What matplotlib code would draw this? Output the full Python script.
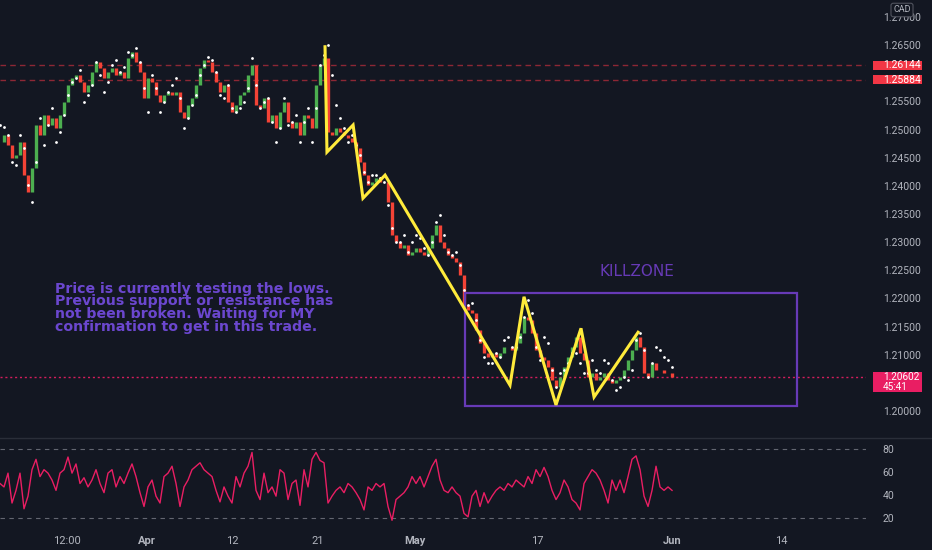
import numpy as np
import matplotlib
matplotlib.use("Agg")
import matplotlib.pyplot as plt
from matplotlib.patches import Rectangle
from matplotlib.lines import Line2D
import matplotlib.transforms as mtransforms

# ------------------------------------------------------------------ data
close_prices = [
    1.2478, 1.2490, 1.2472, 1.2449, 1.2455, 1.2478, 1.2419, 1.2389, 1.2432, 1.2508,
    1.2490, 1.2526, 1.2508, 1.2520, 1.2503, 1.2526, 1.2549, 1.2579, 1.2591, 1.2597,
    1.2584, 1.2567, 1.2579, 1.2602, 1.2620, 1.2609, 1.2591, 1.2602, 1.2609, 1.2597,
    1.2602, 1.2591, 1.2627, 1.2638, 1.2620, 1.2602, 1.2556, 1.2591, 1.2584, 1.2561,
    1.2549, 1.2561, 1.2567,
    1.2561, 1.2567, 1.2531, 1.2520, 1.2543, 1.2556, 1.2579, 1.2609, 1.2623, 1.2620,
    1.2602, 1.2584, 1.2567, 1.2579, 1.2549, 1.2531, 1.2543, 1.2561, 1.2567, 1.2597,
    1.2615, 1.2543, 1.2538, 1.2556, 1.2513, 1.2526, 1.2503, 1.2531, 1.2549, 1.2513,
    1.2503, 1.2513, 1.2490, 1.2526, 1.2520, 1.2503, 1.2579, 1.2615, 1.2627,
    1.2496, 1.2490, 1.2503, 1.2496, 1.2490, 1.2485, 1.2478, 1.2467, 1.2442, 1.2419,
    1.2401, 1.2407, 1.2414, 1.2407, 1.2407, 1.2371, 1.2313, 1.2300, 1.2290, 1.2295,
    1.2277, 1.2282, 1.2290, 1.2282, 1.2277, 1.2290, 1.2313, 1.2330, 1.2300, 1.2290,
    1.2277, 1.2272, 1.2265, 1.2242,
    1.2188, 1.2179, 1.2174, 1.2144, 1.2121, 1.2103, 1.2096, 1.2103, 1.2096, 1.2103,
    1.2114, 1.2114, 1.2108, 1.2121, 1.2139, 1.2167, 1.2162, 1.2139, 1.2108, 1.2096,
    1.2091, 1.2078, 1.2055, 1.2043, 1.2060, 1.2078, 1.2096, 1.2114, 1.2132, 1.2103,
    1.2091, 1.2060, 1.2068, 1.2055, 1.2060, 1.2068, 1.2055, 1.2050, 1.2055, 1.2060,
    1.2073, 1.2091, 1.2108, 1.2132, 1.2114, 1.2068, 1.2060, 1.2085, 1.2073, 1.2073,
    1.2068, 1.2068, 1.2060,
]

trail_dots = [
    1.2508, 1.2504, 1.2490, 1.2442, 1.2437, 1.2490, 1.2467, 1.2401, 1.2371, 1.2442,
    1.2520, 1.2472, 1.2508, 1.2538, 1.2478, 1.2496, 1.2526, 1.2561, 1.2584, 1.2591,
    1.2606, 1.2549, 1.2561, 1.2579, 1.2620, 1.2597, 1.2567, 1.2584, 1.2615, 1.2623,
    1.2602, 1.2611, 1.2638, 1.2632, 1.2645, 1.2620, 1.2574, 1.2531, 1.2597, 1.2574,
    1.2531, 1.2549, 1.2567,
    1.2579, 1.2591, 1.2556, 1.2503, 1.2520, 1.2543, 1.2561, 1.2597, 1.2615, 1.2629,
    1.2623, 1.2602, 1.2561, 1.2556, 1.2579, 1.2538, 1.2531, 1.2538, 1.2549, 1.2574,
    1.2627, 1.2579, 1.2538, 1.2549, 1.2556, 1.2513, 1.2478, 1.2503, 1.2556, 1.2508,
    1.2513, 1.2526, 1.2478, 1.2513, 1.2538, 1.2478, 1.2538, 1.2615, 1.2632,
    1.2650, 1.2597, 1.2543, 1.2520, 1.2503, 1.2478, 1.2490, 1.2472, 1.2455, 1.2424,
    1.2407, 1.2419, 1.2419, 1.2414, 1.2407, 1.2366, 1.2325, 1.2300, 1.2300, 1.2313,
    1.2282, 1.2300, 1.2313, 1.2307, 1.2290, 1.2277, 1.2300, 1.2336, 1.2348, 1.2313,
    1.2282, 1.2277, 1.2282, 1.2259,
    1.2215, 1.2188, 1.2192, 1.2162, 1.2126, 1.2096, 1.2085, 1.2085, 1.2103, 1.2096,
    1.2126, 1.2132, 1.2114, 1.2114, 1.2132, 1.2167, 1.2197, 1.2174, 1.2114, 1.2091,
    1.2132, 1.2121, 1.2073, 1.2043, 1.2068, 1.2073, 1.2085, 1.2103, 1.2103, 1.2085,
    1.2068, 1.2068, 1.2091, 1.2073, 1.2068, 1.2091, 1.2085, 1.2055, 1.2037, 1.2043,
    1.2060, 1.2055, 1.2073, 1.2126, 1.2139, 1.2108, 1.2060, 1.2085, 1.2114, 1.2108,
    1.2096, 1.2091, 1.2078,
]

rsi_values = [
    50, 47, 59, 33, 44, 59, 28, 39, 62, 71,
    56, 62, 59, 53, 44, 59, 62, 73, 59, 67,
    50, 55, 47, 53, 62, 50, 42, 59, 62, 47,
    56, 50, 59, 67, 56, 42, 30, 47, 53, 39,
    33, 56, 59, 65, 50, 30, 47, 53, 62, 65,
    68, 62, 59, 56, 44, 34, 47, 39, 33, 56,
    47, 59, 65, 77, 44, 36, 59, 42, 47, 39,
    62, 59, 36, 50, 53, 31, 62, 47, 71, 77,
    70, 68, 33, 39, 44, 47, 42, 50, 47, 42,
    36, 27, 47, 44, 50, 47, 50, 30, 18, 36,
    39, 42, 47, 56, 50, 56, 47, 56, 65, 71,
    53, 44, 42, 47, 42, 39,
    24, 21, 39, 44, 30, 42, 33, 39, 44, 47,
    44, 50, 47, 53, 50, 47, 56, 50, 62, 56,
    64, 56, 44, 36, 42, 53, 47, 36, 33, 27,
    50, 56, 62, 59, 53, 44, 33, 53, 44, 53,
    42, 56, 71, 74, 62, 39, 30, 44, 65, 47,
    44, 47, 44,
]

resistance_levels = [1.26144, 1.25884]
last_price = 1.20602
countdown = "45:41"

zigzag_days = [14.59, 14.75, 16.89, 17.70, 19.51, 29.75, 30.90, 33.52, 35.57, 36.64, 40.25]
zigzag_prices = [1.2647, 1.2460, 1.2508, 1.2378, 1.2419, 1.2046, 1.2203, 1.2011,
                 1.2147, 1.2025, 1.2140]

killzone_days = [26.07, 53.28]
killzone_prices = [1.2009, 1.2210]

# 1.20500 and 1.26000 sit under the price labels and are hidden there
price_ticks = [1.200, 1.210, 1.215, 1.220, 1.225, 1.230, 1.235,
               1.240, 1.245, 1.250, 1.255, 1.265, 1.270]
rsi_ticks = [20, 40, 60, 80]
time_tick_days = [-6.56, 0, 7, 14, 22, 32, 43, 52]
time_tick_labels = ["12:00", "Apr", "12", "21", "May", "17", "Jun", "14"]
month_labels = {"Apr", "May", "Jun"}

note_text = ("Price is currently testing the lows.\n"
             "Previous support or resistance has\n"
             "not been broken. Waiting for MY\n"
             "confirmation to get in this trade.")

# ------------------------------------------------------------------ style
BG = "#131722"
AXIS_TXT = "#b2b5be"
UP = "#4caf50"
DOWN = "#f44336"
PURPLE = "#673ab7"
NOTE = "#6b47cf"
PINK = "#e91e63"
RED = "#f23645"

W, H = 932, 550
fig = plt.figure(figsize=(W / 100, H / 100), dpi=100)
fig.patch.set_facecolor(BG)

plot_w = 866 / W
ax = fig.add_axes([0, 113 / H, plot_w, 437 / H])
ax2 = fig.add_axes([0, 22 / H, plot_w, 88 / H])
for a in (ax, ax2):
    a.set_facecolor(BG)
    for s in a.spines.values():
        s.set_visible(False)

x_left, x_right = -12.05, 58.93
bar_step = 4 / 12.2
n = min(len(close_prices), len(trail_dots), len(rsi_values))
bars_x = x_left + bar_step * np.arange(n)

close = np.array(close_prices[:n])
opens = np.concatenate([[close[0]], close[:-1]])
dots = np.array(trail_dots[:n])
rsi = np.array(rsi_values[:n])

# ---------------- main price pane
ax.set_xlim(x_left, x_right)
ax.set_ylim(1.1954, 1.2730)

for lvl in resistance_levels:
    ax.axhline(lvl, color=RED, lw=1, ls=(0, (4, 3)), alpha=0.55, zorder=1)
ax.axhline(last_price, color=PINK, lw=1, ls=(0, (1.5, 2)), alpha=0.9, zorder=1)

up = close >= opens
lo = np.minimum(opens, close)
hi = np.maximum(opens, close)
ax.vlines(bars_x[up], lo[up], hi[up], color=UP, lw=2.4, zorder=3)
ax.vlines(bars_x[~up], lo[~up], hi[~up], color=DOWN, lw=2.4, zorder=3)
ax.plot(bars_x, dots, ls="none", marker="o", ms=2.0, mew=0, color="white", zorder=4)

ax.plot(zigzag_days, zigzag_prices, color="#ffeb3b", lw=2.2, zorder=6,
        solid_joinstyle="miter")

ax.add_patch(Rectangle((killzone_days[0], killzone_prices[0]),
                       killzone_days[1] - killzone_days[0],
                       killzone_prices[1] - killzone_prices[0],
                       fill=False, edgecolor=PURPLE, lw=1.6, zorder=5))
ax.text(40.16, 1.2247, "KILLZONE",
        ha="center", va="center", color=PURPLE, fontsize=11, zorder=7)
ax.text(-7.54, 1.2230, note_text, ha="left", va="top", color=NOTE,
        fontsize=10.2, fontweight="bold", linespacing=0.88, zorder=7)

ax.yaxis.tick_right()
ax.set_yticks(price_ticks)
ax.set_yticklabels([f"{v:.5f}" for v in price_ticks])
ax.tick_params(axis="y", length=0, pad=12, labelcolor=AXIS_TXT, labelsize=7.5)
ax.tick_params(axis="x", bottom=False, labelbottom=False)
for lbl in ax.get_yticklabels():
    lbl.set_fontfamily("Roboto")

trans = mtransforms.blended_transform_factory(ax.transAxes, ax.transData)
bx0 = 873 / 866
bw = 49 / 866
for lvl in resistance_levels:
    ax.add_patch(Rectangle((bx0, lvl - 0.0008), bw, 0.0016, transform=trans,
                           facecolor=RED, edgecolor="none", clip_on=False, zorder=10))
    ax.text(883 / 866, lvl, f"{lvl:.5f}", transform=trans, ha="left", va="center",
            color="white", fontsize=7.5, family="Roboto", clip_on=False, zorder=11)
ax.add_patch(Rectangle((bx0, 1.2034), bw, 0.0035, transform=trans,
                       facecolor=PINK, edgecolor="none", clip_on=False, zorder=10))
ax.text(883 / 866, 1.20515, f"{last_price:.5f}\n{countdown}", transform=trans,
        ha="left", va="center", color="white", fontsize=7.2, family="Roboto",
        linespacing=1.0, clip_on=False, zorder=11)

fig.text(902 / W, 1 - 10 / H, "CAD", ha="center", va="center", color=AXIS_TXT,
         fontsize=6.5, family="Roboto",
         bbox=dict(boxstyle="round,pad=0.25", facecolor=BG, edgecolor="#50535e", lw=0.8))

# pane separator
fig.add_artist(Line2D([0, 1], [112 / H, 112 / H], color="#2a2e39", lw=1))

# ---------------- RSI pane
ax2.set_xlim(x_left, x_right)
ax2.set_ylim(11.3, 87.8)
for lvl in (80, 20):
    ax2.axhline(lvl, color="#787b86", lw=0.8, ls=(0, (4, 4)), alpha=0.8)
ax2.plot(bars_x, rsi, color=PINK, lw=1.0)
ax2.yaxis.tick_right()
ax2.set_yticks(rsi_ticks)
ax2.tick_params(axis="y", length=0, pad=12, labelcolor=AXIS_TXT, labelsize=7.5)
ax2.set_xticks(time_tick_days)
ax2.set_xticklabels(time_tick_labels)
ax2.tick_params(axis="x", length=0, pad=6, labelcolor=AXIS_TXT, labelsize=8)
for lbl in ax2.get_yticklabels() + ax2.get_xticklabels():
    lbl.set_fontfamily("Roboto")
for lbl in ax2.get_xticklabels():
    if lbl.get_text() in month_labels:
        lbl.set_fontweight("bold")

fig.savefig("out.png", dpi=100, facecolor=BG)
